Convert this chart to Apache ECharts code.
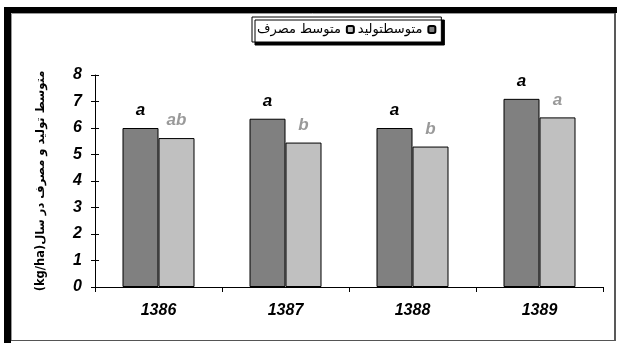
<!DOCTYPE html>
<html>
<head>
<meta charset="utf-8">
<script src="https://cdn.jsdelivr.net/npm/echarts@6/dist/echarts.min.js"></script>
<style>
  html, body { margin: 0; padding: 0; background: #fff; }
  #chart { width: 617px; height: 343px; }
</style>
</head>
<body>
<div id="chart"></div>
<script>
// Yearly averages (kg/ha)
const years = ['1386', '1387', '1388', '1389'];
const production = [6.0, 6.35, 6.0, 7.1];
const consumption = [5.62, 5.45, 5.3, 6.4];
const productionLetters = ['a', 'a', 'a', 'a'];
const consumptionLetters = ['ab', 'b', 'b', 'a'];
const yTicks = [0, 1, 2, 3, 4, 5, 6, 7, 8];

const nameProduction = 'متوسطتولید';
const nameConsumption = 'متوسط مصرف';
const yName = '(kg/ha)متوسط تولید و مصرف در سال';

const labelFont = {
  fontFamily: 'Liberation Sans, Arial, sans-serif',
  fontWeight: 'bold',
  fontStyle: 'italic',
  fontSize: 16
};

const chart = echarts.init(document.getElementById('chart'), null, { renderer: 'canvas' });

chart.setOption({
  animation: false,
  backgroundColor: '#fff',
  graphic: [
    // page frame: heavy top/left edge, thin right/bottom edge
    { type: 'rect', shape: { x: 4, y: 7, width: 613, height: 6 }, style: { fill: '#000' }, z: 100 },
    { type: 'rect', shape: { x: 4, y: 7, width: 7, height: 336 }, style: { fill: '#000' }, z: 100 },
    { type: 'line', shape: { x1: 11.5, y1: 13.5, x2: 614, y2: 13.5 }, style: { stroke: '#999', lineWidth: 1 }, z: 100 },
    { type: 'line', shape: { x1: 11.5, y1: 13.5, x2: 11.5, y2: 340 }, style: { stroke: '#999', lineWidth: 1 }, z: 100 },
    { type: 'line', shape: { x1: 615, y1: 13, x2: 615, y2: 341 }, style: { stroke: '#222', lineWidth: 1.5 }, z: 100 },
    { type: 'line', shape: { x1: 11, y1: 340.5, x2: 615, y2: 340.5 }, style: { stroke: '#555', lineWidth: 1 }, z: 100 }
  ],
  legend: {
    data: [nameConsumption, nameProduction],
    left: 252,
    top: 17,
    align: 'right',
    itemWidth: 7,
    itemHeight: 7,
    itemGap: 3,
    padding: [6, 5, 6, 5],
    backgroundColor: '#fff',
    borderColor: '#000',
    borderWidth: 1,
    shadowColor: '#000',
    shadowOffsetX: 3,
    shadowOffsetY: 3,
    shadowBlur: 0,
    textStyle: {
      fontFamily: 'DejaVu Sans',
      fontSize: 13,
      color: '#000',
      padding: [0, 1, 0, 1]
    }
  },
  grid: { left: 95, right: 14, top: 75, bottom: 56, containLabel: false },
  xAxis: {
    type: 'category',
    data: years,
    axisLine: { lineStyle: { color: '#000', width: 1 } },
    axisTick: { show: true, length: 5, lineStyle: { color: '#000' } },
    axisLabel: Object.assign({ color: '#000', margin: 16 }, labelFont)
  },
  yAxis: [
    {
      type: 'value',
      min: yTicks[0],
      max: yTicks[yTicks.length - 1],
      interval: 1,
      name: yName,
      nameLocation: 'middle',
      nameRotate: 90,
      nameGap: 48,
      nameTextStyle: {
        fontFamily: 'DejaVu Sans',
        fontWeight: 'bold',
        fontSize: 11.5,
        color: '#000'
      },
      splitLine: { show: false },
      axisLine: { show: true, lineStyle: { color: '#000', width: 1 } },
      axisTick: { show: true, length: 4, lineStyle: { color: '#000' } },
      axisLabel: Object.assign({ color: '#000', margin: 13 }, labelFont)
    },
    {
      type: 'value',
      min: yTicks[0],
      max: yTicks[yTicks.length - 1],
      interval: 1,
      position: 'left',
      splitLine: { show: false },
      axisLine: { show: false },
      axisTick: { show: true, inside: true, length: 4, lineStyle: { color: '#000' } },
      axisLabel: { show: false }
    }
  ],
  series: [
    {
      name: nameProduction,
      type: 'bar',
      data: production,
      barWidth: 36,
      barGap: '0%',
      itemStyle: { color: '#808080', borderColor: '#000', borderWidth: 1 },
      label: Object.assign({
        show: true,
        position: 'top',
        distance: 9,
        color: '#000',
        formatter: p => productionLetters[p.dataIndex]
      }, labelFont, { fontSize: 17 })
    },
    {
      name: nameConsumption,
      type: 'bar',
      data: consumption,
      barWidth: 36,
      barGap: '0%',
      itemStyle: { color: '#c0c0c0', borderColor: '#000', borderWidth: 1 },
      label: Object.assign({
        show: true,
        position: 'top',
        distance: 9,
        color: '#999',
        formatter: p => consumptionLetters[p.dataIndex]
      }, labelFont, { fontSize: 17 })
    }
  ]
});
</script>
</body>
</html>
